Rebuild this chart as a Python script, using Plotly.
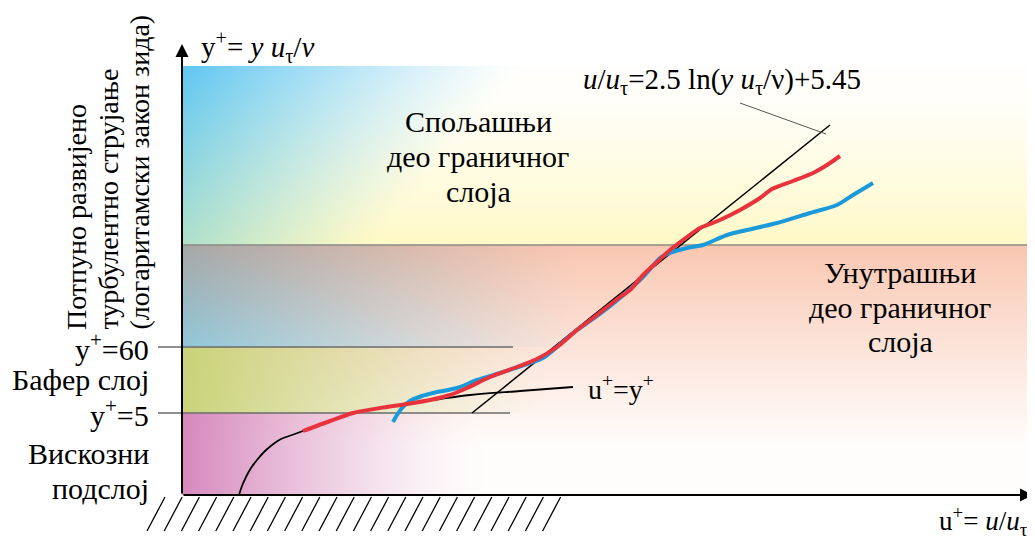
import numpy as np
import plotly.graph_objects as go
import zlib, struct, base64

# ---------------- data (diagram units = pixel grid of the sketch) ----------------
# u+ = y+ (viscous sublayer law)
visc_x = [239, 242, 246, 251, 257, 264, 272, 281, 292, 303, 330, 353, 380, 407, 440, 470, 520, 573]
visc_y = [495, 486, 477, 468, 460, 452, 445, 439, 435, 431, 421, 413, 408, 404, 399, 395, 391, 387]
# log law u/u_tau = 2.5 ln(y u_tau/nu) + 5.45
log_x = [472, 830]
log_y = [413, 125]
# measured profile 1 (red)
red_x = [303, 330, 353, 380, 407, 430, 450, 467, 490, 517, 537, 557, 577, 593, 620, 630, 643, 657,
         670, 687, 700, 720, 740, 760, 772, 793, 813, 827, 840]
red_y = [431, 421, 413, 408, 404, 400, 395, 388, 377, 367, 359, 347, 330, 318, 297, 290, 275, 262,
         250, 237, 228, 220, 210, 198, 189, 181, 173, 165, 156]
# measured profile 2 (blue)
blue_x = [393, 397, 402, 410, 422, 433, 457, 477, 503, 530, 543, 557, 577, 593, 620, 643, 660, 670,
          687, 703, 727, 747, 777, 810, 837, 853, 873]
blue_y = [422, 415, 408, 401, 396, 393, 388, 380, 372, 363, 358, 347, 330, 319, 298, 277, 258, 253,
          248, 245, 235, 230, 223, 213, 205, 195, 183]
# layer boundaries (outer/inner, y+=60, y+=5) and axes frame
outer_inner = 245
buffer_top = 347
buffer_bot = 413
x_axis_y = 495
y_axis_x = 182
plot_top = 66
plot_right = 1035
layer_labels = ["y<sup>+</sup>=60", "Бафер слој", "y<sup>+</sup>=5", "Вискозни", "подслој"]
layer_label_y = [347, 379, 413, 453, 488]
outer_lines = ["Спољашњи", "део граничног", "слоја"]
inner_lines = ["Унутрашњи", "део граничног", "слоја"]
side_lines = ["Потпуно развијено", "турбулентно струјање", "(логаритамски закон зида)"]

W, H = 1035, 539
OFF = 8  # default page margin of the html body
FONT = "Liberation Serif, Times New Roman, serif"


# ---------------- background gradient ----------------
def lerp(c1, c2, t):
    c1 = np.array(c1, float)
    c2 = np.array(c2, float)
    return c1 + (c2 - c1) * t[..., None]


xs = np.arange(y_axis_x, plot_right) + 0.5
ys = np.arange(plot_top, x_axis_y) + 0.5
X, Y = np.meshgrid(xs, ys)
DX = X - y_axis_x

t = np.clip((Y - plot_top) / (outer_inner - plot_top), 0, 1)
base = lerp((255, 255, 253), (255, 249, 198), t ** 1.4)
lc = lerp((95, 198, 242), (130, 210, 205), t)
wd = 340 - 150 * t
a = (1 - 0.35 * t) * np.clip(1 - DX / wd, 0, 1) ** 1.2
top = lc * a[..., None] + base * (1 - a[..., None])

t2 = np.clip((Y - outer_inner) / (x_axis_y - outer_inner) * 1.25, 0, 1)
ibase = lerp((250, 198, 176), (255, 253, 252), t2 ** 0.9)

tm = np.clip((Y - outer_inner) / (buffer_top - outer_inner), 0, 1)
lcm = lerp((152, 162, 165), (125, 194, 218), tm)
am = 0.85 * np.clip(1 - DX / 400, 0, 1) ** 1.15
mid = lcm * am[..., None] + ibase * (1 - am[..., None])

ab = 0.95 * np.clip(1 - DX / 370, 0, 1) ** 1.3
buf = np.array([198, 210, 115]) * ab[..., None] + ibase * (1 - ab[..., None])

av = 0.95 * np.clip(1 - DX / 300, 0, 1) ** 1.4
vis = np.array([212, 130, 186]) * av[..., None] + ibase * (1 - av[..., None])

img = np.where((Y < outer_inner)[..., None], top,
      np.where((Y < buffer_top)[..., None], mid,
      np.where((Y < buffer_bot)[..., None], buf, vis)))
img = np.clip(img, 0, 255).astype(np.uint8)


def to_png_uri(rgb):
    h, w, _ = rgb.shape
    raw = b"".join(b"\x00" + rgb[i].tobytes() for i in range(h))

    def chunk(tag, data):
        return (struct.pack(">I", len(data)) + tag + data +
                struct.pack(">I", zlib.crc32(tag + data) & 0xFFFFFFFF))

    png = (b"\x89PNG\r\n\x1a\n" +
           chunk(b"IHDR", struct.pack(">IIBBBBB", w, h, 8, 2, 0, 0, 0)) +
           chunk(b"IDAT", zlib.compress(raw, 9)) + chunk(b"IEND", b""))
    return "data:image/png;base64," + base64.b64encode(png).decode()


fig = go.Figure()
fig.add_trace(go.Image(source=to_png_uri(img), x0=y_axis_x + 0.5, y0=plot_top + 0.5,
                       dx=1, dy=1, hoverinfo="skip"))

# layer boundary lines
fig.add_trace(go.Scatter(x=[y_axis_x, plot_right], y=[outer_inner, outer_inner], mode="lines",
                         line=dict(color="#8a8a8a", width=1.6), hoverinfo="skip"))
fig.add_trace(go.Scatter(x=[158, 513, None, 158, 510], y=[buffer_top, buffer_top, None, buffer_bot, buffer_bot],
                         mode="lines", line=dict(color="#6b6b6b", width=1.5), hoverinfo="skip"))

# hatching under the wall
hx, hy = [], []
for k in range(24):
    x0 = 147 + 17.2 * k
    hx += [x0, x0 + 18, None]
    hy += [531, 497, None]
fig.add_trace(go.Scatter(x=hx, y=hy, mode="lines", line=dict(color="black", width=1.3), hoverinfo="skip"))

# theoretical laws
fig.add_trace(go.Scatter(x=visc_x, y=visc_y, mode="lines", line=dict(color="black", width=1.8, shape="spline"),
                         hoverinfo="skip"))
fig.add_trace(go.Scatter(x=log_x, y=log_y, mode="lines", line=dict(color="black", width=1.5), hoverinfo="skip"))
fig.add_trace(go.Scatter(x=[740, 826], y=[103, 134], mode="lines", line=dict(color="#555555", width=1),
                         hoverinfo="skip"))

# measured profiles
fig.add_trace(go.Scatter(x=blue_x, y=blue_y, mode="lines",
                         line=dict(color="#1a9ad9", width=4, shape="spline", smoothing=0.7), hoverinfo="skip"))
fig.add_trace(go.Scatter(x=red_x, y=red_y, mode="lines",
                         line=dict(color="#e8323c", width=4, shape="spline", smoothing=0.7), hoverinfo="skip"))

anns = []
# axes arrows
anns.append(dict(x=y_axis_x, y=44, ax=y_axis_x, ay=x_axis_y, xref="x", yref="y", axref="x", ayref="y",
                 showarrow=True, arrowhead=2, arrowsize=1.3, arrowwidth=2, arrowcolor="black", text=""))
anns.append(dict(x=1033, y=x_axis_y, ax=y_axis_x, ay=x_axis_y, xref="x", yref="y", axref="x", ayref="y",
                 showarrow=True, arrowhead=2, arrowsize=1.3, arrowwidth=2, arrowcolor="black", text=""))


def txt(x, y, s, size, xanchor="center", yanchor="middle", angle=0):
    return dict(x=x, y=y, xref="x", yref="y", text=s, showarrow=False, xanchor=xanchor, yanchor=yanchor,
                textangle=angle, font=dict(family=FONT, size=size, color="black"))


anns.append(txt(199, 47, "y<sup>+</sup>= <i>y u</i><sub>τ</sub>/<i>ν</i>", 29, xanchor="left"))
for s, xx in zip(side_lines, [76, 108, 139]):
    anns.append(txt(xx, 332, s, 28, yanchor="bottom", angle=-90))
for s, yy in zip(layer_labels, layer_label_y):
    anns.append(txt(151, yy, s, 30, xanchor="right"))
for s, yy in zip(outer_lines, [121, 156, 191]):
    anns.append(txt(478, yy, s, 30))
for s, yy in zip(inner_lines, [272, 307, 341]):
    anns.append(txt(900, yy, s, 30))
anns.append(txt(722, 81, "<i>u</i>/<i>u</i><sub>τ</sub>=2.5 ln(<i>y u</i><sub>τ</sub>/ν)+5.45", 29))
anns.append(txt(586, 387, "u<sup>+</sup>=y<sup>+</sup>", 28, xanchor="left"))
anns.append(txt(1030, 521, "u<sup>+</sup>= <i>u</i>/<i>u</i><sub>τ</sub>", 27, xanchor="right"))

fig.update_layout(
    width=W - OFF, height=H - OFF, margin=dict(l=0, r=0, t=0, b=0),
    paper_bgcolor="white", plot_bgcolor="white", showlegend=False,
    xaxis=dict(range=[OFF, W], visible=False, fixedrange=True),
    yaxis=dict(range=[H, OFF], visible=False, fixedrange=True),
    annotations=anns,
)
fig.write_html("out.html")
